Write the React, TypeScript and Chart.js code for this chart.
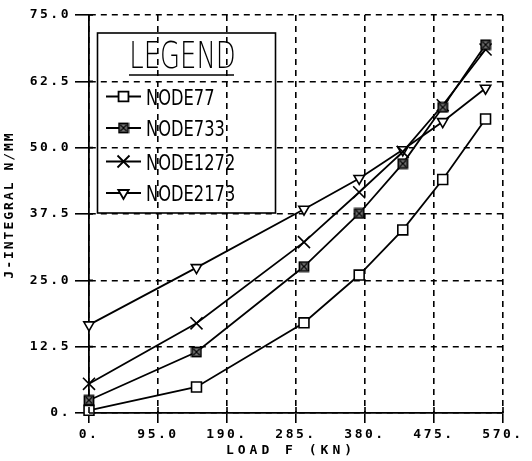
import React, { useEffect, useRef } from "react";
import { Chart, registerables } from "chart.js";
import { drawPoint } from "chart.js/helpers";

Chart.register(...registerables);

const loads = [0, 148, 296, 372, 432, 487, 546];
const node77 = [0.5, 4.9, 17.0, 26.0, 34.5, 44.0, 55.4];
const node733 = [2.4, 11.5, 27.6, 37.6, 47.0, 57.6, 69.4];
const node1272 = [5.5, 16.9, 32.2, 41.6, 49.2, 58.0, 68.5];
const node2173 = [16.6, 27.4, 38.4, 44.2, 49.6, 54.9, 61.2];
const seriesNames = ["NODE77", "NODE733", "NODE1272", "NODE2173"];
const xTickLabels = ["0.", "95.0", "190.", "285.", "380.", "475.", "570."];
const yTickLabels = ["0.", "12.5", "25.0", "37.5", "50.0", "62.5", "75.0"];
const xTitle = "LOAD F (KN)";
const yTitle = "J-INTEGRAL N/MM";
const legendTitle = "LEGEND";

function makeBoxX(): HTMLCanvasElement {
  const c = document.createElement("canvas");
  c.width = 12;
  c.height = 12;
  const g = c.getContext("2d")!;
  g.fillStyle = "#7a7a7a";
  g.fillRect(1, 1, 10, 10);
  g.strokeStyle = "#000";
  g.lineWidth = 1.8;
  g.strokeRect(1.5, 1.5, 9, 9);
  g.lineWidth = 1.2;
  g.beginPath();
  g.moveTo(3, 3);
  g.lineTo(9, 9);
  g.moveTo(9, 3);
  g.lineTo(3, 9);
  g.stroke();
  return c;
}

export default function App() {
  const ref = useRef<HTMLCanvasElement | null>(null);

  useEffect(() => {
    if (!ref.current) return;
    const boxX = makeBoxX();
    const markers: any[] = [
      { pointStyle: "rect", radius: 7, rotation: 0 },
      { pointStyle: boxX, radius: 6, rotation: 0 },
      { pointStyle: "crossRot", radius: 8.5, rotation: 0 },
      { pointStyle: "triangle", radius: 6, rotation: 180 },
    ];
    const values = [node77, node733, node1272, node2173];

    const decor = {
      id: "decor",
      beforeDraw(chart: any) {
        chart.ctx.letterSpacing = "2.5px";
      },
      beforeDatasetsDraw(chart: any) {
        chart.ctx.letterSpacing = "0px";
      },
      afterDraw(chart: any) {
        const { ctx, chartArea, scales } = chart;
        ctx.save();
        ctx.letterSpacing = "0px";
        ctx.strokeStyle = "#000";
        ctx.fillStyle = "#000";
        ctx.lineWidth = 1.6;
        // inner tick stubs
        ctx.beginPath();
        scales.x.ticks.forEach((t: any) => {
          const px = scales.x.getPixelForValue(t.value);
          ctx.moveTo(px, chartArea.bottom - 6);
          ctx.lineTo(px, chartArea.bottom);
        });
        scales.y.ticks.forEach((t: any) => {
          const py = scales.y.getPixelForValue(t.value);
          ctx.moveTo(chartArea.left, py);
          ctx.lineTo(chartArea.left + 4, py);
        });
        ctx.stroke();

        // axis titles
        ctx.font = "bold 13px 'DejaVu Sans Mono'";
        ctx.textAlign = "center";
        ctx.textBaseline = "middle";
        ctx.letterSpacing = "4px";
        ctx.fillText(xTitle, 291, 451);
        ctx.save();
        ctx.translate(10, 206);
        ctx.rotate(-Math.PI / 2);
        ctx.letterSpacing = "2px";
        ctx.fillText(yTitle, 1, 0);
        ctx.restore();
        ctx.letterSpacing = "0px";

        // legend box
        ctx.lineWidth = 1.6;
        ctx.strokeRect(97.5, 33, 178, 180);
        // legend title
        ctx.save();
        ctx.translate(182.5, 68);
        ctx.scale(0.7, 1);
        ctx.font = "200 37px 'DejaVu Sans'";
        ctx.textAlign = "center";
        ctx.textBaseline = "alphabetic";
        ctx.fillText(legendTitle, 0, 0);
        ctx.restore();
        ctx.lineWidth = 1.5;
        ctx.beginPath();
        ctx.moveTo(129, 75);
        ctx.lineTo(234, 75);
        ctx.stroke();

        const ys = [96.5, 128, 161.5, 193];
        chart.data.datasets.forEach((ds: any, i: number) => {
          const y = ys[i];
          ctx.lineWidth = 1.8;
          ctx.beginPath();
          ctx.moveTo(106, y);
          ctx.lineTo(141, y);
          ctx.stroke();
          ctx.fillStyle = "#fff";
          ctx.strokeStyle = "#000";
          const m = markers[i];
          drawPoint(ctx, { pointStyle: m.pointStyle, rotation: m.rotation, radius: m.radius, borderWidth: 1.6 } as any, 123.5, y);
          ctx.fillStyle = "#000";
          ctx.save();
          ctx.translate(146, y + 8);
          ctx.scale(0.74, 1);
          ctx.font = "22px 'DejaVu Sans'";
          ctx.textAlign = "left";
          ctx.textBaseline = "alphabetic";
          ctx.fillText(ds.label, 0, 0);
          ctx.restore();
        });
        ctx.restore();
      },
    };

    const chart = new Chart(ref.current, {
      type: "line",
      data: {
        datasets: seriesNames.map((name, i) => ({
          label: name,
          data: loads.map((x, j) => ({ x, y: values[i][j] })),
          borderColor: "#000",
          borderWidth: 1.8,
          tension: 0,
          fill: false,
          clip: false as any,
          pointStyle: markers[i].pointStyle,
          pointRotation: markers[i].rotation,
          pointRadius: markers[i].radius,
          pointHoverRadius: markers[i].radius,
          pointBorderWidth: 1.6,
          pointBorderColor: "#000",
          pointBackgroundColor: "#fff",
        })),
      },
      options: {
        responsive: false,
        maintainAspectRatio: false,
        animation: false,
        layout: { padding: { left: 0, top: 15, right: 29, bottom: 0 } },
        plugins: { legend: { display: false }, title: { display: false }, tooltip: { enabled: false } },
        scales: {
          x: {
            type: "linear",
            min: 0,
            max: 570,
            afterFit: (s: any) => {
              s.height = 48;
            },
            ticks: {
              stepSize: 95,
              autoSkip: false,
              maxRotation: 0,
              padding: 4,
              color: "#000",
              font: { family: "'DejaVu Sans Mono'", weight: "bold", size: 13 },
              callback: (_v: any, i: number) => xTickLabels[i],
            },
            grid: { color: "#000", lineWidth: 1.6, tickLength: 10, tickColor: "#000", tickWidth: 1.6, tickBorderDash: [] },
            border: { display: true, color: "#000", width: 1.8, dash: [6, 5] },
          },
          y: {
            type: "linear",
            min: 0,
            max: 75,
            afterFit: (s: any) => {
              s.width = 89;
            },
            ticks: {
              stepSize: 12.5,
              autoSkip: false,
              padding: 4,
              color: "#000",
              font: { family: "'DejaVu Sans Mono'", weight: "bold", size: 13 },
              callback: (_v: any, i: number) => yTickLabels[i],
            },
            grid: { color: "#000", lineWidth: 1.6, tickLength: 14, tickColor: "#000", tickWidth: 1.6, tickBorderDash: [] },
            border: { display: true, color: "#000", width: 1.8, dash: [6, 5] },
          },
        },
      },
      plugins: [decor],
    } as any);
    return () => chart.destroy();
  }, []);

  return (
    <div style={{ position: "fixed", left: 0, top: 0, width: 532, height: 461, background: "#fff" }}>
      <canvas ref={ref} width={532} height={461} style={{ display: "block" }} />
    </div>
  );
}
